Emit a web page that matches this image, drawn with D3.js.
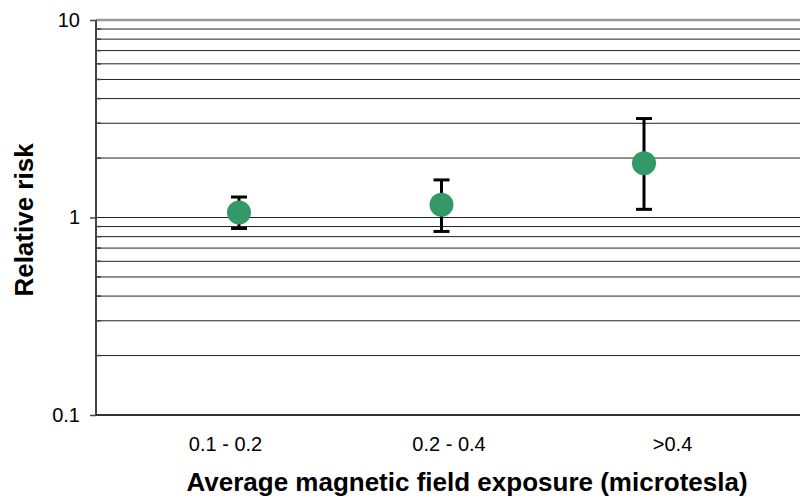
<!DOCTYPE html>
<html>
<head>
<meta charset="utf-8">
<script src="https://cdn.jsdelivr.net/npm/d3@7"></script>
<style>
  body { margin: 0; background: #fff; }
  text { font-family: "Liberation Sans", Arial, sans-serif; }
</style>
</head>
<body>
<div id="container"></div>
<script>
/* DATA */
const categories = ["0.1 - 0.2", "0.2 - 0.4", ">0.4"];
const relativeRisk = [1.06, 1.16, 1.88];
const lowerCI = [0.88, 0.85, 1.10];
const upperCI = [1.27, 1.55, 3.17];
const majorTicks = [0.1, 1, 10];
const tickLabels = ["0.1", "1", "10"];

/* CONSTANTS AND GLOBALS */
const width = 800,
  height = 497,
  margin = { top: 20, bottom: 82, left: 96, right: 0 };

const svg = d3.select("#container")
  .append("svg")
  .attr("width", width)
  .attr("height", height);

// SCALES
const y = d3.scaleLog()
  .domain([0.1, 10])
  .range([height - margin.bottom, margin.top]);

// category labels and markers sit on slightly different spacing in the original
const xLabel = d3.scalePoint()
  .domain(categories)
  .range([225, 672]);

const xPoint = d3.scalePoint()
  .domain(categories)
  .range([239, 644]);

// GRIDLINES (every minor value in each decade)
const gridValues = [];
[0.1, 1].forEach(base => {
  for (let k = 1; k <= 9; k++) gridValues.push(+(base * k).toPrecision(3));
});
gridValues.push(10);

svg.append("g")
  .selectAll("line.grid")
  .data(gridValues.filter(v => v > 0.1 && v < 10))
  .join("line")
  .attr("class", "grid")
  .attr("x1", margin.left)
  .attr("x2", width - margin.right)
  .attr("y1", d => y(d))
  .attr("y2", d => y(d))
  .attr("stroke", "#222")
  .attr("stroke-width", 1);

// top border at 10
svg.append("line")
  .attr("x1", margin.left)
  .attr("x2", width)
  .attr("y1", y(10))
  .attr("y2", y(10))
  .attr("stroke", "#999")
  .attr("stroke-width", 2.5);

// minor ticks (inside)
svg.append("g")
  .selectAll("line.minor")
  .data(gridValues.filter(v => !majorTicks.includes(v)))
  .join("line")
  .attr("x1", margin.left)
  .attr("x2", margin.left + 5)
  .attr("y1", d => y(d))
  .attr("y2", d => y(d))
  .attr("stroke", "#444")
  .attr("stroke-width", 1.5);

// Y AXIS
const yAxis = d3.axisLeft(y)
  .tickValues(majorTicks)
  .tickFormat((d, i) => tickLabels[i])
  .tickSize(6)
  .tickPadding(10);

const yAxisG = svg.append("g")
  .attr("transform", `translate(${margin.left},0)`)
  .call(yAxis);

yAxisG.select(".domain")
  .attr("d", `M0,${y(10)}V${y(0.1)}`)
  .attr("stroke", "#444")
  .attr("stroke-width", 2);

yAxisG.selectAll(".tick line")
  .attr("stroke", "#444")
  .attr("stroke-width", 1.5);

yAxisG.selectAll(".tick text")
  .style("font-size", "20px")
  .style("font-family", "'Liberation Sans', Arial, sans-serif")
  .attr("fill", "#000");

// X AXIS
const xAxisG = svg.append("g")
  .attr("transform", `translate(0,${y(0.1)})`)
  .call(d3.axisBottom(xLabel).tickSize(0).tickPadding(22));

xAxisG.select(".domain")
  .attr("d", `M${margin.left},0H${width}`)
  .attr("stroke", "#333")
  .attr("stroke-width", 2);

xAxisG.selectAll(".tick text")
  .style("font-size", "20px")
  .style("font-family", "'Liberation Sans', Arial, sans-serif")
  .attr("fill", "#000");

// ERROR BARS
const bars = svg.append("g")
  .selectAll("g.errbar")
  .data(categories)
  .join("g")
  .attr("class", "errbar");

bars.append("line")
  .attr("x1", d => xPoint(d))
  .attr("x2", d => xPoint(d))
  .attr("y1", (d, i) => y(upperCI[i]))
  .attr("y2", (d, i) => y(lowerCI[i]))
  .attr("stroke", "#000")
  .attr("stroke-width", 3);

[upperCI, lowerCI].forEach(arr => {
  bars.append("line")
    .attr("x1", d => xPoint(d) - 8)
    .attr("x2", d => xPoint(d) + 8)
    .attr("y1", (d, i) => y(arr[i]))
    .attr("y2", (d, i) => y(arr[i]))
    .attr("stroke", "#000")
    .attr("stroke-width", 3);
});

// POINTS
svg.append("g")
  .selectAll("circle.point")
  .data(categories)
  .join("circle")
  .attr("class", "point")
  .attr("cx", d => xPoint(d))
  .attr("cy", (d, i) => y(relativeRisk[i]))
  .attr("r", 12)
  .attr("fill", "#339966");

// AXIS TITLES
svg.append("text")
  .attr("x", 467)
  .attr("y", 491)
  .attr("text-anchor", "middle")
  .style("font-size", "26px")
  .style("font-weight", "bold")
  .text("Average magnetic field exposure (microtesla)");

svg.append("text")
  .attr("transform", "translate(33, 220) rotate(-90)")
  .attr("text-anchor", "middle")
  .style("font-size", "26px")
  .style("font-weight", "bold")
  .text("Relative risk");
</script>
</body>
</html>
